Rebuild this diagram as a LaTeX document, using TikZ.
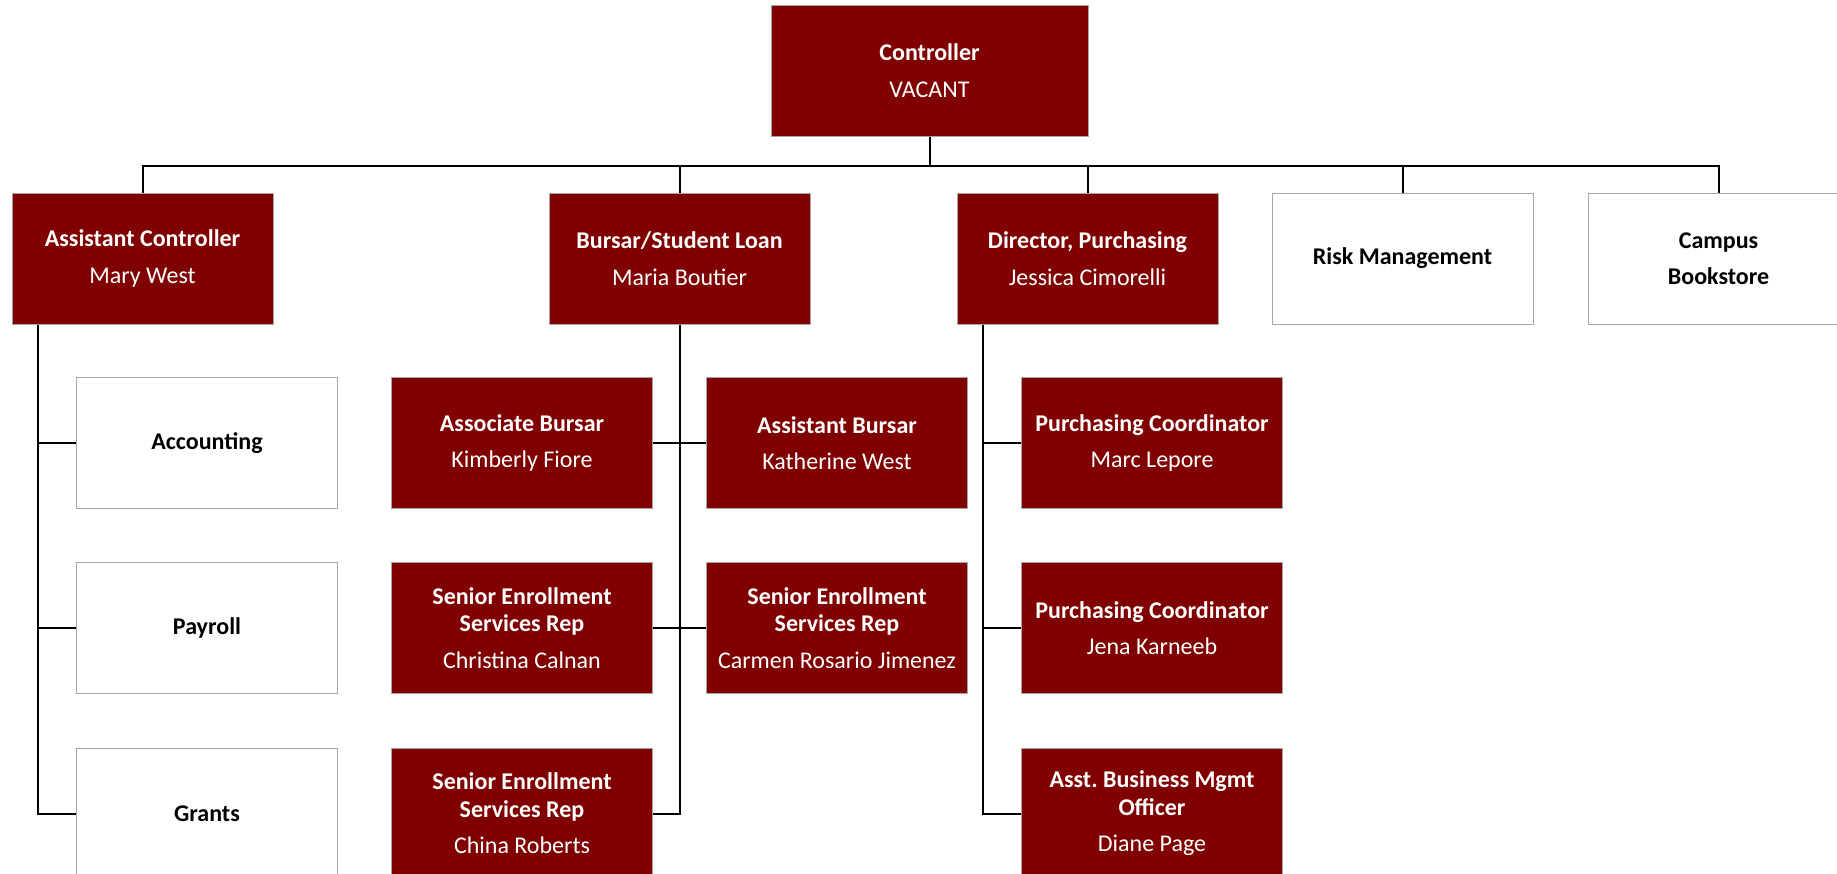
\documentclass[tikz,border=0pt]{standalone}
\usepackage{fontspec}
\setmainfont{Carlito}
\usepackage{tikz}
\definecolor{maroon}{RGB}{128,0,0}
\definecolor{boxline}{RGB}{166,166,166}
\tikzset{
  orgbox/.style={rectangle, draw=boxline, line width=0.5pt, minimum width=130.5pt,
    minimum height=65.5pt, inner sep=2pt, align=center,
    font=\fontsize{12pt}{13.75pt}\selectfont\bfseries},
  redbox/.style={orgbox, fill=maroon, text=white},
  whitebox/.style={orgbox, fill=white, text=black},
  link/.style={line width=1pt, black},
}
\newcommand{\who}[1]{\\[4.5pt]\textmd{#1}}

\begin{document}
\begin{tikzpicture}[x=0.5pt, y=-0.5pt]
  \clip (0,0) rectangle (1837,873);
  % top box and bus line
  \node[redbox, minimum width=158.5pt] (ctrl) at (929.5,70.5) {Controller\who{VACANT}};
  \coordinate (bus) at (929.5,166);
  % second level
  \node[redbox] (astc) at (142.5,258.5) {Assistant Controller\who{Mary West}};
  \node[redbox] (bursar) at (679.5,258.5) {Bursar/Student Loan\who{Maria Boutier}};
  \node[redbox] (dirp) at (1087.5,258.5) {Director, Purchasing\who{Jessica Cimorelli}};
  \node[whitebox] (risk) at (1402.5,258.5) {Risk Management};
  \node[whitebox] (store) at (1718.5,258.5) {Campus\\[4.5pt]Bookstore};
  \draw[link] (ctrl.south) -- (bus);
  \foreach \n in {astc,bursar,dirp,risk,store}
    \draw[link] (bus) -| (\n.north);
  % under the assistant controller
  \node[whitebox] (acct) at (207,443) {Accounting};
  \node[whitebox] (payroll) at (207,628) {Payroll};
  \node[whitebox] (grants) at (207,813.5) {Grants};
  \foreach \n in {acct,payroll,grants}
    \draw[link] ([xshift=13pt]astc.south west) |- (\n.west);
  % bursar staff, both sides of the trunk
  \node[redbox] (assoc) at (522,443) {Associate Bursar\who{Kimberly Fiore}};
  \node[redbox] (asstb) at (837,443) {Assistant Bursar\who{Katherine West}};
  \node[redbox] (sesra) at (522,628) {Senior Enrollment\\Services Rep\who{Christina Calnan}};
  \node[redbox] (sesrb) at (837,628) {Senior Enrollment\\Services Rep\who{Carmen Rosario Jimenez}};
  \node[redbox] (sesrc) at (522,813.5) {Senior Enrollment\\Services Rep\who{China Roberts}};
  \foreach \n in {assoc,sesra,sesrc}
    \draw[link] (bursar.south) |- (\n.east);
  \foreach \n in {asstb,sesrb}
    \draw[link] (bursar.south) |- (\n.west);
  % purchasing staff
  \node[redbox] (pcoa) at (1152,443) {Purchasing Coordinator\who{Marc Lepore}};
  \node[redbox] (pcob) at (1152,628) {Purchasing Coordinator\who{Jena Karneeb}};
  \node[redbox] (abmo) at (1152,813.5) {Asst.\ Business Mgmt\\Officer\who{Diane Page}};
  \foreach \n in {pcoa,pcob,abmo}
    \draw[link] ([xshift=13pt]dirp.south west) |- (\n.west);
\end{tikzpicture}
\end{document}
